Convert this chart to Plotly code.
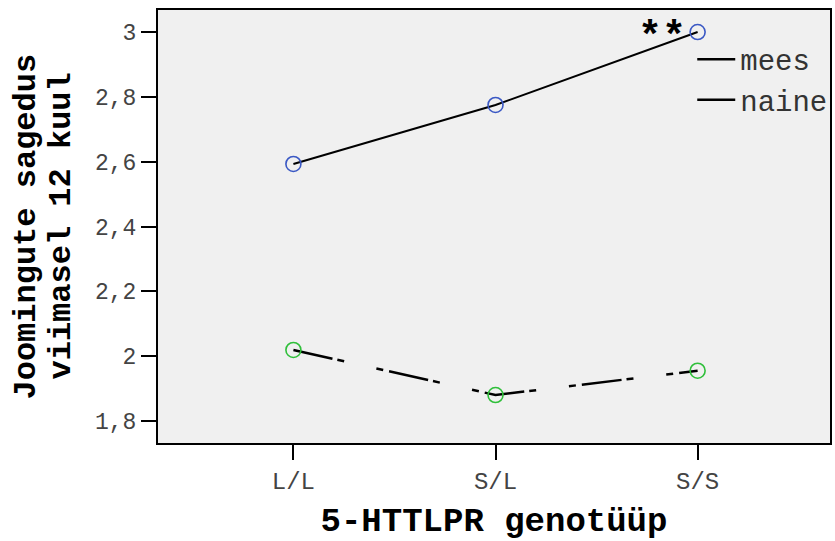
import plotly.graph_objects as go

categories = ["L/L", "S/L", "S/S"]
mees = [2.593, 2.775, 3.0]
naine = [2.019, 1.880, 1.955]
y_ticks = [1.8, 2.0, 2.2, 2.4, 2.6, 2.8, 3.0]
y_ticktext = ["1,8", "2", "2,2", "2,4", "2,6", "2,8", "3"]
y_title_lines = ["Joomingute sagedus", "viimasel 12 kuul"]
x_title = "5-HTTLPR genotüüp"
x_idx = [0, 1, 2]

MONO = "Liberation Mono, Courier New, monospace"

fig = go.Figure()
fig.add_trace(go.Scatter(
    x=x_idx, y=mees, mode="lines+markers", name="mees", showlegend=False,
    line=dict(color="black", width=2),
    marker=dict(symbol="circle-open", size=15, color="#3a58c4", line=dict(width=1.6)),
))
fig.add_trace(go.Scatter(
    x=x_idx, y=naine, mode="lines+markers", name="naine", showlegend=False,
    line=dict(color="black", width=2.5, dash="40px,5px,7px,33px,7px,6px"),
    marker=dict(symbol="circle-open", size=15, color="#2fbf3a", line=dict(width=1.6)),
))
# legend entries (lines only, as in the original)
for nm, grp in [("mees", "a"), ("naine", "b")]:
    fig.add_trace(go.Scatter(
        x=[None], y=[None], mode="lines", name=nm, legendgroup=grp,
        line=dict(color="black", width=2.5),
    ))

fig.add_annotation(x=2, y=3.0, text="<b>**</b>", showarrow=False,
                   xshift=-36, yshift=-6,
                   font=dict(family=MONO, size=40, color="black"))

# y-axis title, two rotated lines
for txt, xs in zip(y_title_lines, [-132, -97]):
    fig.add_annotation(xref="paper", yref="paper", x=0, y=0.5, text="<b>%s</b>" % txt,
                       textangle=-90, showarrow=False, xanchor="center", yanchor="middle",
                       xshift=xs, font=dict(family=MONO, size=32, color="black"))

fig.update_layout(
    width=835, height=541,
    margin=dict(l=158, r=2, t=10, b=98),
    paper_bgcolor="white",
    plot_bgcolor="#f0f0f0",
    font=dict(family=MONO, color="#444444"),
    legend=dict(x=0.795, y=0.945, xanchor="left", yanchor="top",
                bgcolor="rgba(0,0,0,0)", font=dict(size=29, color="#333333"),
                tracegroupgap=0, itemwidth=38),
    xaxis=dict(
        range=[-0.67, 2.655], tickmode="array", tickvals=x_idx, ticktext=categories,
        showgrid=False, zeroline=False, showline=True, mirror=True,
        linecolor="black", linewidth=2, ticks="outside", ticklen=15, tickwidth=2,
        tickcolor="black", tickfont=dict(size=24, color="#444444"),
        title=dict(text="<b>%s</b>" % x_title, font=dict(size=34, color="black"), standoff=13),
    ),
    yaxis=dict(
        range=[1.732, 3.068], tickmode="array", tickvals=y_ticks, ticktext=y_ticktext,
        showgrid=False, zeroline=False, showline=True, mirror=True,
        linecolor="black", linewidth=2, ticks="outside", ticklen=15, tickwidth=2,
        tickcolor="black", tickfont=dict(size=23, color="#444444"),
    ),
)

fig.write_html("out.html")
